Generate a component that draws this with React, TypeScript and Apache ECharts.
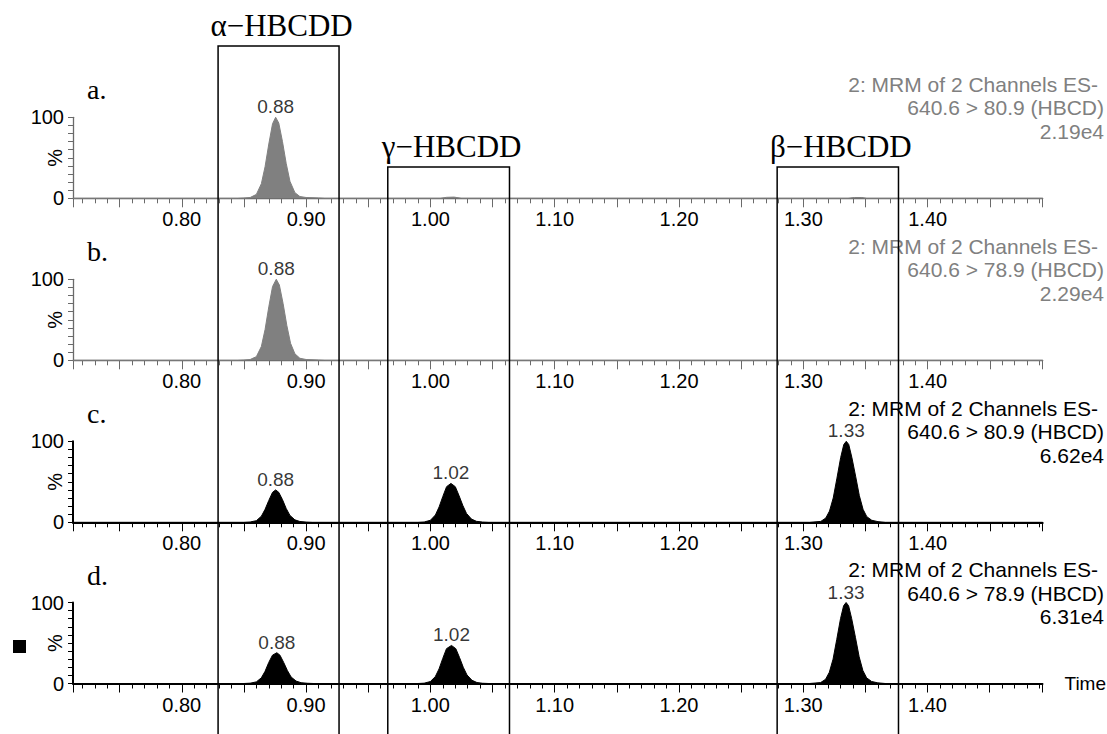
import React, { useEffect, useRef } from 'react';
import * as echarts from 'echarts';

// ---------- data ----------
const X_MIN = 0.7125;
const X_MAX = 1.4925;
const xTickLabels = ['0.80', '0.90', '1.00', '1.10', '1.20', '1.30', '1.40'];

const panelLetters = ['a.', 'b.', 'c.', 'd.'];
const channelTitles = [
  '2: MRM of 2 Channels ES-',
  '2: MRM of 2 Channels ES-',
  '2: MRM of 2 Channels ES-',
  '2: MRM of 2 Channels ES-',
];
const transitions = [
  '640.6 > 80.9 (HBCD)',
  '640.6 > 78.9 (HBCD)',
  '640.6 > 80.9 (HBCD)',
  '640.6 > 78.9 (HBCD)',
];
const intensities = ['2.19e4', '2.29e4', '6.62e4', '6.31e4'];

// chromatogram traces: [time (min), relative intensity %]
const traceA: [number, number][] = [
  [0.7125, 0], [0.845, 0], [0.850, 0.4], [0.855, 1], [0.860, 4.8], [0.864, 18], [0.867, 39],
  [0.870, 67], [0.873, 92], [0.8755, 100], [0.878, 93], [0.881, 70], [0.884, 43], [0.887, 21],
  [0.891, 7], [0.895, 2.2], [0.900, 1], [0.910, 0.5], [0.915, 0],
  [1.008, 0], [1.013, 1.2], [1.019, 1.5], [1.025, 0],
  [1.336, 0], [1.341, 1], [1.347, 1], [1.351, 0], [1.4925, 0],
];
const traceB: [number, number][] = [
  [0.7125, 0], [0.845, 0], [0.850, 0.4], [0.855, 1], [0.860, 4.5], [0.864, 17], [0.867, 38],
  [0.870, 66], [0.873, 91], [0.876, 100], [0.8785, 93], [0.8815, 70], [0.8845, 43], [0.8875, 21],
  [0.891, 8], [0.895, 2.5], [0.900, 1], [0.910, 0.4], [0.915, 0], [1.4925, 0],
];
const traceC: [number, number][] = [
  [0.7125, 0], [0.850, 0], [0.855, 0.4], [0.860, 2], [0.864, 7.5], [0.867, 16], [0.870, 27],
  [0.873, 37], [0.8755, 40], [0.878, 37], [0.881, 28], [0.884, 17], [0.887, 8.5], [0.891, 3],
  [0.895, 1], [0.900, 0.3], [0.905, 0],
  [0.990, 0], [0.995, 0.4], [1.000, 2.5], [1.004, 9], [1.007, 19], [1.010, 32], [1.013, 44],
  [1.0165, 48], [1.020, 44], [1.023, 33], [1.026, 21], [1.029, 11], [1.033, 4], [1.037, 1.2],
  [1.042, 0.3], [1.047, 0],
  [1.305, 0], [1.314, 1.1], [1.318, 5.2], [1.321, 13.8], [1.324, 30], [1.327, 54.5], [1.330, 80],
  [1.3325, 96], [1.3345, 100], [1.3365, 96], [1.339, 80], [1.342, 57], [1.345, 33], [1.348, 16],
  [1.351, 7], [1.355, 2.5], [1.360, 0.8], [1.366, 0], [1.4925, 0],
];
const traceD: [number, number][] = [
  [0.7125, 0], [0.850, 0], [0.855, 0.4], [0.860, 2], [0.864, 7], [0.867, 15], [0.870, 26],
  [0.873, 35], [0.8765, 38], [0.879, 35], [0.882, 26], [0.885, 16], [0.888, 8], [0.892, 3],
  [0.896, 1], [0.901, 0.3], [0.906, 0],
  [0.990, 0], [0.995, 0.4], [1.000, 2.4], [1.004, 8.5], [1.007, 18], [1.010, 31], [1.013, 43],
  [1.017, 47], [1.0205, 43], [1.0235, 32], [1.0265, 20], [1.0295, 10.5], [1.0335, 4], [1.0375, 1.2],
  [1.042, 0.3], [1.047, 0],
  [1.305, 0], [1.314, 1.1], [1.318, 5.2], [1.321, 13.8], [1.324, 30], [1.327, 54.5], [1.330, 80],
  [1.3325, 96], [1.3345, 100], [1.3365, 96], [1.339, 80], [1.342, 57], [1.345, 33], [1.348, 16],
  [1.351, 7], [1.355, 2.5], [1.360, 0.8], [1.366, 0], [1.4925, 0],
];

// peak apex labels: [time, intensity, label]
const peaksA: [number, number, string][] = [[0.8755, 100, '0.88']];
const peaksB: [number, number, string][] = [[0.876, 100, '0.88']];
const peaksC: [number, number, string][] = [[0.8755, 40, '0.88'], [1.0165, 48, '1.02'], [1.3345, 100, '1.33']];
const peaksD: [number, number, string][] = [[0.8765, 38, '0.88'], [1.017, 47, '1.02'], [1.3345, 100, '1.33']];

// isomer retention windows
const boxNames = ['α−HBCDD', 'γ−HBCDD', 'β−HBCDD'];
const boxStart = [0.8292, 0.9657, 1.2789];
const boxEnd = [0.9265, 1.0636, 1.3765];

// ---------- styling / layout ----------
const SANS = '"Liberation Sans", Arial, Helvetica, sans-serif';
const SERIF = '"Liberation Serif", "Times New Roman", serif';
const GRAY = '#808080';
const BASELINES = [198.3, 360.3, 522.3, 683.5];
const PLOT_H = 81;
const LEFT = 73;
const RIGHT_EDGE = 1042.7;
const BOX_TOPS = [46, 167, 167];

const panels = [
  { letter: panelLetters[0], trace: traceA, peaks: peaksA, fill: GRAY, axis: '#6a6a6a', axisW: 1.3, text: GRAY },
  { letter: panelLetters[1], trace: traceB, peaks: peaksB, fill: GRAY, axis: '#6a6a6a', axisW: 1.3, text: GRAY },
  { letter: panelLetters[2], trace: traceC, peaks: peaksC, fill: '#000', axis: '#000', axisW: 2, text: '#000' },
  { letter: panelLetters[3], trace: traceD, peaks: peaksD, fill: '#000', axis: '#000', axisW: 2, text: '#000' },
];

export default function App() {
  const ref = useRef<HTMLDivElement>(null);

  useEffect(() => {
    if (!ref.current) return;
    const chart = echarts.init(ref.current, undefined, { renderer: 'svg' });

    const option: any = {
      animation: false,
      backgroundColor: '#fff',
      grid: panels.map((_, i) => ({
        left: LEFT,
        right: 1107 - RIGHT_EDGE,
        top: BASELINES[i] - PLOT_H,
        height: PLOT_H,
      })),
      xAxis: panels.map((p, i) => ({
        type: 'value',
        gridIndex: i,
        min: X_MIN,
        max: X_MAX,
        minInterval: 0.05,
        maxInterval: 0.05,
        splitNumber: 16,
        axisLine: { show: true, onZero: false, lineStyle: { color: p.axis, width: p.axisW } },
        axisTick: { show: true, length: 9, lineStyle: { color: p.axis, width: 1 } },
        minorTick: { show: true, splitNumber: 5, length: 5, lineStyle: { color: p.axis, width: 1 } },
        splitLine: { show: false },
        minorSplitLine: { show: false },
        axisLabel: {
          show: true,
          margin: 11,
          color: '#000',
          fontSize: 20,
          fontFamily: SANS,
          showMinLabel: false,
          showMaxLabel: false,
          formatter: (v: number) => {
            const s = v.toFixed(2);
            return Math.abs(v * 100 - Math.round(v * 100)) < 1e-6 && xTickLabels.includes(s) ? s : '';
          },
        },
        name: i === 3 ? 'Time' : '',
        nameLocation: 'end',
        nameGap: 22,
        nameTextStyle: { color: '#000', fontSize: 19, fontFamily: SANS },
      })),
      yAxis: panels.map((p, i) => ({
        type: 'value',
        gridIndex: i,
        min: 0,
        max: 100,
        interval: 100,
        axisLine: { show: true, onZero: false, lineStyle: { color: p.axis, width: p.axisW } },
        axisTick: { show: true, length: 5, lineStyle: { color: p.axis, width: 1 } },
        minorTick: { show: true, splitNumber: 10, length: 5, lineStyle: { color: p.axis, width: 1 } },
        splitLine: { show: false },
        minorSplitLine: { show: false },
        axisLabel: { margin: 9, color: '#000', fontSize: 20, fontFamily: SANS },
        name: '%',
        nameLocation: 'middle',
        nameGap: 8,
        nameRotate: 90,
        nameMoveOverlap: false,
        nameTextStyle: { color: '#000', fontSize: 20, fontFamily: SANS },
      })),
      series: [
        ...panels.map((p, i) => ({
          type: 'line',
          xAxisIndex: i,
          yAxisIndex: i,
          data: p.trace,
          symbol: 'none',
          lineStyle: { color: p.fill, width: 1 },
          areaStyle: { color: p.fill, opacity: 1 },
          silent: true,
          z: 2,
        })),
        ...panels.map((p, i) => ({
          type: 'scatter',
          xAxisIndex: i,
          yAxisIndex: i,
          data: p.peaks.map((k) => [k[0], k[1], k[2]]),
          symbolSize: 0,
          silent: true,
          label: {
            show: true,
            position: 'top',
            distance: 1,
            color: '#000',
            fontSize: 19,
            fontFamily: SANS,
            formatter: (params: any) => params.data[2],
          },
          z: 3,
        })),
      ],
    };
    chart.setOption(option);

    const graphic: any[] = [];
    // retention window boxes
    boxNames.forEach((name, b) => {
      const x0 = chart.convertToPixel({ xAxisIndex: 0 }, boxStart[b]) as number;
      const x1 = chart.convertToPixel({ xAxisIndex: 0 }, boxEnd[b]) as number;
      const top = BOX_TOPS[b];
      graphic.push({
        type: 'polyline',
        shape: { points: [[x0, 740], [x0, top], [x1, top], [x1, 740]] },
        style: { stroke: '#000', lineWidth: 1.5, fill: null },
        z: 10,
      });
      graphic.push({
        type: 'text',
        x: (x0 + x1) / 2 + 3,
        y: top - 21,
        style: {
          text: name,
          fill: '#000',
          font: `31px ${SERIF}`,
          textAlign: 'center',
          textVerticalAlign: 'middle',
        },
        z: 10,
      });
    });
    // panel letters and channel annotations
    panels.forEach((p, i) => {
      const base = BASELINES[i];
      graphic.push({
        type: 'text',
        x: 87,
        y: base - 108.5,
        style: {
          text: p.letter,
          fill: '#000',
          font: `28px ${SERIF}`,
          textAlign: 'left',
          textVerticalAlign: 'middle',
        },
        z: 10,
      });
      [channelTitles[i], transitions[i], intensities[i]].forEach((line, j) => {
        graphic.push({
          type: 'text',
          x: j === 0 ? 1098 : 1104,
          y: base - 114 + j * 23.5,
          style: {
            text: line,
            fill: p.text,
            font: `21px ${SANS}`,
            textAlign: 'right',
            textVerticalAlign: 'middle',
          },
          z: 9,
        });
      });
    });
    graphic.push({
      type: 'rect',
      shape: { x: 13, y: 640, width: 13, height: 13 },
      style: { fill: '#000' },
    });
    chart.setOption({ graphic });

    return () => chart.dispose();
  }, []);

  return (
    <div
      ref={ref}
      style={{ position: 'fixed', left: 0, top: 0, width: 1107, height: 734, background: '#fff' }}
    />
  );
}
